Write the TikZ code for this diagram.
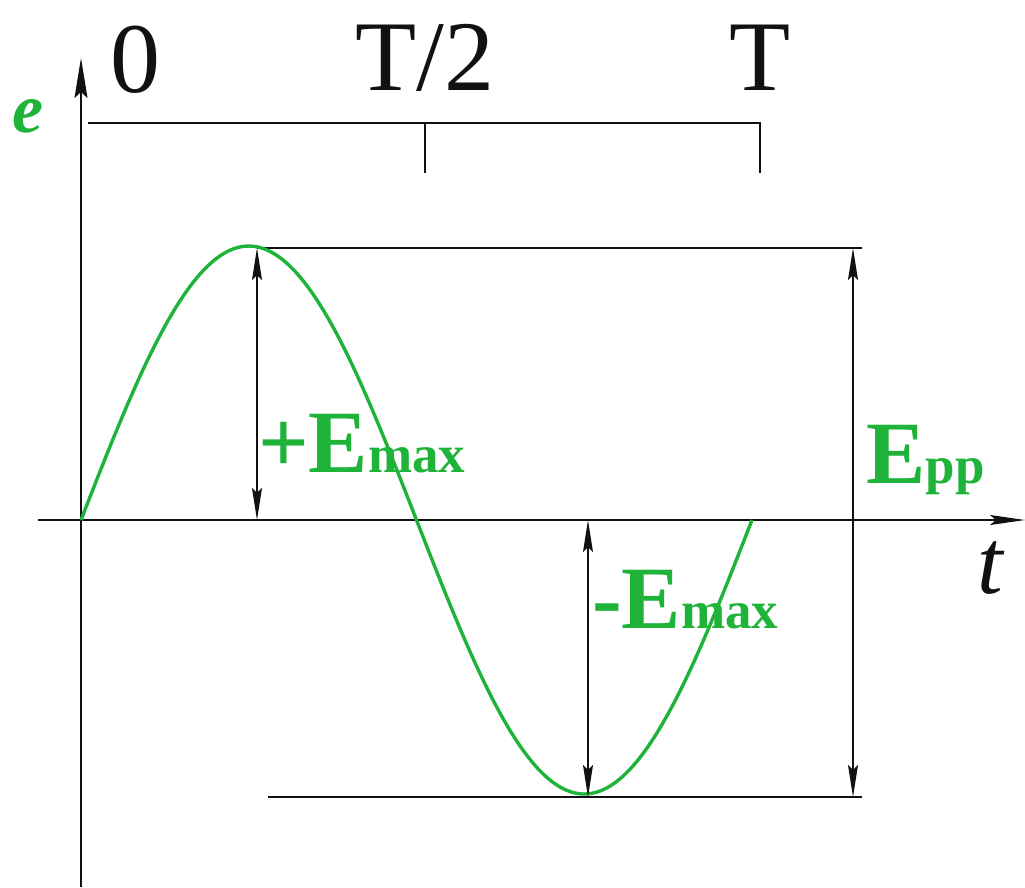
\documentclass[tikz,border=0pt]{standalone}
\usepackage{fontspec}
\setmainfont{Liberation Serif}
\usetikzlibrary{arrows.meta}
\definecolor{wavegreen}{HTML}{1FB33A}
\definecolor{inkblack}{HTML}{111111}

\tikzset{
  axisline/.style={inkblack, line width=2pt},
  guide/.style={inkblack, line width=1.6pt},
  dimarrow/.style={inkblack, line width=1.6pt, {Stealth[length=32pt, width=10pt, inset=5pt]}-{Stealth[length=32pt, width=10pt, inset=5pt]}},
  greenlbl/.style={text=wavegreen, inner sep=0pt, anchor=base west, font=\bfseries},
  ticklbl/.style={text=inkblack, inner sep=0pt, anchor=base, font=\fontsize{100}{100}\selectfont},
}
\newcommand{\bigE}{{\fontsize{89}{89}\selectfont E}}
\newcommand{\smallsub}[1]{{\fontsize{53}{53}\selectfont #1}}

\begin{document}
\begin{tikzpicture}[x=1pt, y=-1pt]

\useasboundingbox (0,0) rectangle (1025,887);

% Key points
\coordinate (O) at (81,520);
\coordinate (xstart) at (38,520);
\coordinate (xend) at (1025,520);
\coordinate (ybot) at (81,887);
\coordinate (ytop) at (81,58);
\coordinate (peak) at (257,248);
\coordinate (peakbase) at (257,520);
\coordinate (trough) at (588,797);
\coordinate (troughbase) at (588,520);
\coordinate (topend) at (862,248);
\coordinate (botstart) at (268,797);
\coordinate (botend) at (862,797);
\coordinate (pptop) at (853,248);
\coordinate (ppbot) at (853,797);

% Period bracket
\coordinate (brl) at (88,123);
\coordinate (brm) at (425,123);
\coordinate (brmd) at (425,173);
\coordinate (brr) at (760,123);
\coordinate (brrd) at (760,173);
\draw[guide] (brl) -- (brr) -- (brrd);
\draw[guide] (brm) -- (brmd);

\node[ticklbl] (zero) at (135,92) {0};
\node[ticklbl] (half) at (425,90) {T/2};
\node[ticklbl] (full) at (760,90) {T};

% Axes
\draw[axisline, -{Stealth[length=35pt, width=10pt, inset=6pt]}] (xstart) -- (xend);
\draw[axisline, -{Stealth[length=40pt, width=13pt, inset=6pt]}] (ybot) -- (ytop);
\node[text=wavegreen, inner sep=0pt, anchor=base, font=\fontsize{70}{70}\selectfont\bfseries\itshape] (elbl) at (28,132) {e};
\node[text=inkblack, inner sep=0pt, anchor=base, font=\fontsize{92}{92}\selectfont\itshape] (tlbl) at (990,593) {t};

% Level lines
\draw[guide] (peak) -- (topend);
\draw[guide] (botstart) -- (botend);

% Sine wave
\draw[wavegreen, line width=3.4pt, smooth, samples=120, domain=0:360]
  plot ({81+\x/360*671}, {520-274*sin(\x)});

% Amplitude arrows
\draw[dimarrow] (peak) -- (peakbase);
\draw[dimarrow] (troughbase) -- (trough);
\draw[dimarrow] (pptop) -- (ppbot);

\node[greenlbl] (pmax) at (258,472) {{\fontsize{89}{89}\selectfont+}\bigE\smallsub{max}};
\node[greenlbl] (mmax) at (592,628) {{\fontsize{89}{89}\selectfont-}\bigE\smallsub{max}};
\node[greenlbl] (epp) at (866,483) {\bigE\smallsub{pp}};

\end{tikzpicture}
\end{document}
